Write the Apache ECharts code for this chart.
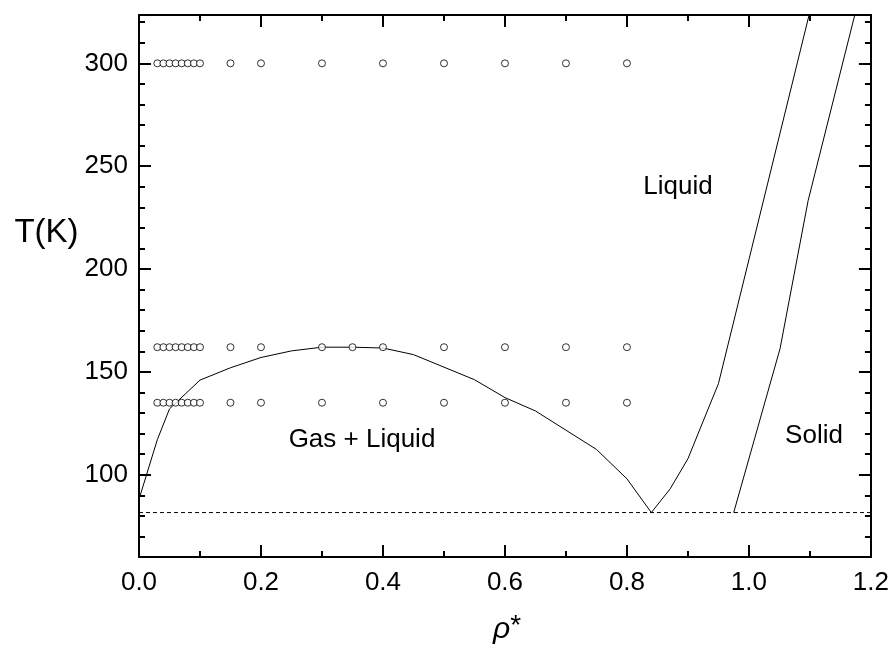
<!DOCTYPE html>
<html>
<head>
<meta charset="utf-8">
<script src="https://cdn.jsdelivr.net/npm/echarts@6/dist/echarts.min.js"></script>
<style>
html,body{margin:0;padding:0;background:#fff;}
#chart{width:892px;height:646px;}
</style>
</head>
<body>
<div id="chart"></div>
<script>
// ---- data ----
const rho300 = [0.03,0.04,0.05,0.06,0.07,0.08,0.09,0.10,0.15,0.2,0.3,0.4,0.5,0.6,0.7,0.8];
const rho162 = [0.03,0.04,0.05,0.06,0.07,0.08,0.09,0.10,0.15,0.2,0.3,0.35,0.4,0.5,0.6,0.7,0.8];
const rho135 = [0.03,0.04,0.05,0.06,0.07,0.08,0.09,0.10,0.15,0.2,0.3,0.4,0.5,0.6,0.7,0.8];
const simT = [300, 162, 135];

const coexRho = [0.002,0.03,0.05,0.1,0.15,0.2,0.25,0.3,0.35,0.4,0.45,0.55,0.6,0.65,0.75,0.8,0.84];
const coexT   = [90,117,132,146,152,157,160.2,162,162,161.6,158.4,146.2,137.5,131,112.3,98,81.6];

const liqRho = [0.84,0.871,0.9,0.95,1.104];
const liqT   = [81.6,93.2,107.8,144.3,330];

const solRho = [0.975,1.051,1.097,1.179];
const solT   = [81.6,161.3,233.2,330];

const tripleT = 81.6;
const xTicks = [0,0.2,0.4,0.6,0.8,1.0,1.2];
const xMinorTicks = [0.1,0.3,0.5,0.7,0.9,1.1];
const yTicks = [100,150,200,250,300];

const xMin = 0, xMax = 1.2, yMin = 60, yMax = 323.5;

// ---- chart ----
const FONT = '"Liberation Sans", Arial, sans-serif';
const chart = echarts.init(document.getElementById('chart'), null, {renderer:'canvas'});
const zip = (a,b) => a.map((v,i)=>[v,b[i]]);
const axisLine = {show:true, onZero:false, lineStyle:{color:'#000', width:2}};
const noLine = {show:false, onZero:false};

const xMajor = (pos, labels) => ({
  type:'value', position:pos, min:xMin, max:xMax,
  axisLine: axisLine,
  axisTick:{show:true, inside:true, length:12, customValues:xTicks, lineStyle:{color:'#000', width:2}},
  splitLine:{show:false},
  axisLabel:{show:labels, customValues:xTicks, color:'#000', fontSize:26, fontFamily:FONT, margin:13,
    formatter: v => Number(v).toFixed(1)}
});
const xMinor = (pos) => ({
  type:'value', position:pos, min:xMin, max:xMax,
  axisLine: noLine,
  axisTick:{show:true, inside:true, length:6, customValues:xMinorTicks, lineStyle:{color:'#000', width:2}},
  splitLine:{show:false},
  axisLabel:{show:false}
});

const yMinor = (pos) => ({
  type:'value', position:pos, min:yMin, max:yMax, interval:10,
  axisLine: axisLine,
  axisTick:{show:true, inside:true, length:6, lineStyle:{color:'#000', width:2}},
  splitLine:{show:false},
  axisLabel:{show:false}
});
const yMajor = (pos, labels) => ({
  type:'value', position:pos, min:yMin, max:yMax,
  axisLine: noLine,
  axisTick:{show:true, inside:true, length:12, customValues:yTicks, lineStyle:{color:'#000', width:2}},
  splitLine:{show:false},
  axisLabel:{show:labels, customValues:yTicks, color:'#000', fontSize:26, fontFamily:FONT, margin:11}
});

const circleStyle = {color:'#fff', borderColor:'#000', borderWidth:1};
const scat = (rhos, T) => ({
  type:'scatter', xAxisIndex:0, yAxisIndex:0, symbol:'circle', symbolSize:7,
  itemStyle:circleStyle, z:5, silent:true,
  data: rhos.map(r=>[r,T])
});
const line = (data, dashed) => ({
  type:'line', xAxisIndex:0, yAxisIndex:0, showSymbol:false, symbol:'none', clip:true,
  lineStyle:{color:'#000', width:1, type: dashed ? [4,3] : 'solid'}, z:3, silent:true,
  data
});

chart.setOption({
  animation:false,
  backgroundColor:'#fff',
  grid:{left:139, right:19, top:15, bottom:89, containLabel:false},
  xAxis:[xMajor('bottom', true), xMinor('bottom'), xMajor('top', false), xMinor('top')],
  yAxis:[yMinor('left'), yMajor('left', true), yMinor('right'), yMajor('right', false)],
  series:[
    line([[xMin,tripleT],[xMax,tripleT]], true),
    line(zip(coexRho, coexT)),
    line(zip(liqRho, liqT)),
    line(zip(solRho, solT)),
    scat(rho300, simT[0]),
    scat(rho162, simT[1]),
    scat(rho135, simT[2])
  ],
  graphic:[
    {type:'text', x:46.5, y:233, style:{text:'T(K)', font:'33px '+FONT, fill:'#000', align:'center', verticalAlign:'middle'}},
    {type:'text', x:507, y:630, style:{text:'{a|ρ}{b|*}', fill:'#000', align:'center', verticalAlign:'middle',
      rich:{a:{fontSize:30, fontStyle:'italic', fontFamily:FONT, fill:'#000'}, b:{fontSize:28, fontFamily:FONT, fill:'#000', padding:[0,0,8,0]}}}},
    {type:'text', x:678, y:187, style:{text:'Liquid', font:'26px '+FONT, fill:'#000', align:'center', verticalAlign:'middle'}},
    {type:'text', x:362, y:440, style:{text:'Gas + Liquid', font:'26px '+FONT, fill:'#000', align:'center', verticalAlign:'middle'}},
    {type:'text', x:814, y:436, style:{text:'Solid', font:'26px '+FONT, fill:'#000', align:'center', verticalAlign:'middle'}}
  ]
});
</script>
</body>
</html>
